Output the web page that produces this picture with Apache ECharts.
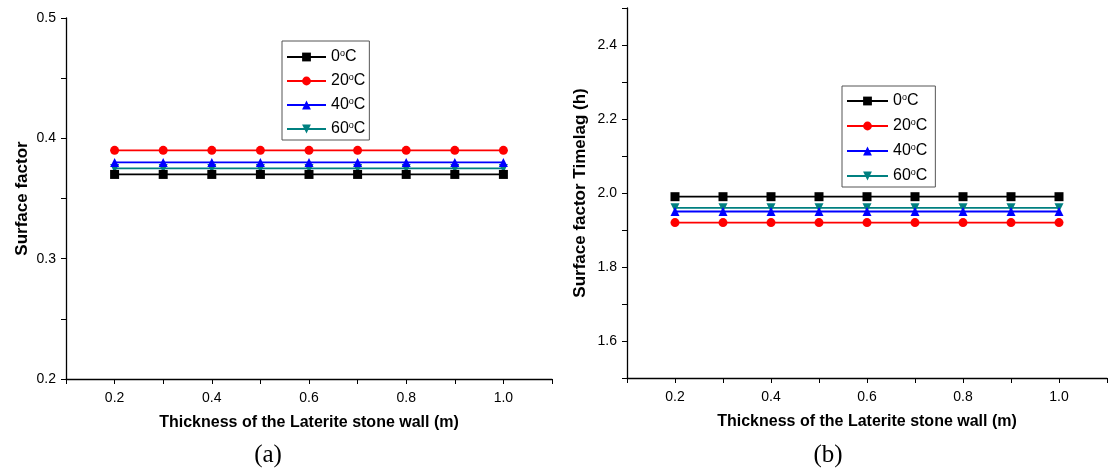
<!DOCTYPE html>
<html>
<head>
<meta charset="utf-8">
<script src="https://cdn.jsdelivr.net/npm/echarts@6/dist/echarts.min.js"></script>
<style>html,body{margin:0;padding:0;background:#fff;}#c{width:1120px;height:471px;}</style>
</head>
<body>
<div id="c"></div>
<script>
var thickness = [0.2, 0.3, 0.4, 0.5, 0.6, 0.7, 0.8, 0.9, 1.0];
var seriesNames = ['0°C', '20°C', '40°C', '60°C'];
// (a) Surface factor
var sf0 = [0.37, 0.37, 0.37, 0.37, 0.37, 0.37, 0.37, 0.37, 0.37];
var sf20 = [0.39, 0.39, 0.39, 0.39, 0.39, 0.39, 0.39, 0.39, 0.39];
var sf40 = [0.38, 0.38, 0.38, 0.38, 0.38, 0.38, 0.38, 0.38, 0.38];
var sf60 = [0.375, 0.375, 0.375, 0.375, 0.375, 0.375, 0.375, 0.375, 0.375];
// (b) Surface factor timelag (h)
var tl0 = [1.99, 1.99, 1.99, 1.99, 1.99, 1.99, 1.99, 1.99, 1.99];
var tl20 = [1.92, 1.92, 1.92, 1.92, 1.92, 1.92, 1.92, 1.92, 1.92];
var tl40 = [1.95, 1.95, 1.95, 1.95, 1.95, 1.95, 1.95, 1.95, 1.95];
var tl60 = [1.96, 1.96, 1.96, 1.96, 1.96, 1.96, 1.96, 1.96, 1.96];

var xLabelTicks = [0.2, 0.4, 0.6, 0.8, 1.0];
var yLabelTicksA = [0.2, 0.3, 0.4, 0.5];
var yLabelTicksB = [1.6, 1.8, 2.0, 2.2, 2.4];

var colors = ['#000000', '#ff0000', '#0000ff', '#008080'];
var symbols = ['rect', 'circle', 'triangle', 'triangle'];
var rotations = [0, 0, 0, 180];

function pairs(vals) { return thickness.map(function (x, i) { return [x, vals[i]]; }); }
function inList(list, v) { for (var i = 0; i < list.length; i++) { if (Math.abs(list[i] - v) < 1e-6) return true; } return false; }

var font = '"Liberation Sans", Arial, sans-serif';
var axisLine = { show: true, onZero: false, lineStyle: { color: '#000', width: 1.3 } };
var axisTick = { show: true, inside: false, length: 5, lineStyle: { color: '#000', width: 1 } };

function xAxis(gi) {
  return {
    type: 'value', gridIndex: gi, min: 0.1, max: 1.1, interval: 0.1,
    axisLine: axisLine, axisTick: axisTick, splitLine: { show: false },
    axisLabel: {
      margin: 12, color: '#000', fontFamily: font, fontSize: 14,
      showMinLabel: true, showMaxLabel: true,
      formatter: function (v) { return inList(xLabelTicks, v) ? v.toFixed(1) : ''; }
    },
    name: 'Thickness of the Laterite stone wall (m)', nameLocation: 'middle', nameGap: 36,
    nameTextStyle: { fontFamily: font, fontSize: 16, fontWeight: 'bold', color: '#000' }
  };
}

function legendFmt(name) { var t = name.split('°'); return t[0] + '{s|o}C'; }

var series = [];
[[sf0, sf20, sf40, sf60], [tl0, tl20, tl40, tl60]].forEach(function (group, gi) {
  group.forEach(function (vals, k) {
    series.push({
      name: seriesNames[k], type: 'line', xAxisIndex: gi, yAxisIndex: gi,
      data: pairs(vals), symbol: symbols[k], symbolRotate: rotations[k], symbolSize: 9,
      color: colors[k], lineStyle: { color: colors[k], width: 1.8 },
      itemStyle: { color: colors[k] }, animation: false, z: 10 - k
    });
  });
});

var legendBase = {
  orient: 'vertical', borderColor: '#555', borderWidth: 1, backgroundColor: '#fff',
  data: seriesNames, selectedMode: false, formatter: legendFmt,
  textStyle: {
    fontFamily: font, fontSize: 16, lineHeight: 16, color: '#000',
    rich: { s: { fontSize: 9, lineHeight: 4, verticalAlign: 'top', fontFamily: font, color: '#000' } }
  }
};

var option = {
  backgroundColor: '#fff',
  animation: false,
  grid: [
    { left: 66, top: 18, width: 486, height: 361 },
    { left: 627, top: 8, width: 480, height: 370 }
  ],
  xAxis: [xAxis(0), xAxis(1)],
  yAxis: [
    {
      type: 'value', gridIndex: 0, min: 0.2, max: 0.5, interval: 0.1,
      axisLine: axisLine, axisTick: axisTick, splitLine: { show: false },
      minorTick: { show: true, splitNumber: 2, length: 5, lineStyle: { color: '#000' } },
      axisLabel: { margin: 10, color: '#000', fontFamily: font, fontSize: 14,
        formatter: function (v) { return inList(yLabelTicksA, v) ? v.toFixed(1) : ''; } },
      name: 'Surface factor', nameLocation: 'middle', nameGap: 35,
      nameTextStyle: { fontFamily: font, fontSize: 17, fontWeight: 'bold', color: '#000' }
    },
    {
      type: 'value', gridIndex: 1, min: 1.5, max: 2.5, interval: 0.1,
      axisLine: axisLine, axisTick: axisTick, splitLine: { show: false },
      axisLabel: { margin: 10, color: '#000', fontFamily: font, fontSize: 14,
        formatter: function (v) { return inList(yLabelTicksB, v) ? v.toFixed(1) : ''; } },
      name: 'Surface factor Timelag (h)', nameLocation: 'middle', nameGap: 38,
      nameTextStyle: { fontFamily: font, fontSize: 17, fontWeight: 'bold', color: '#000' }
    }
  ],
  legend: [
    Object.assign({}, legendBase, { left: 282, top: 41, itemWidth: 39, itemHeight: 11, itemGap: 8, padding: [8, 4, 3, 4] }),
    Object.assign({}, legendBase, { left: 842, top: 86, itemWidth: 41, itemHeight: 11, itemGap: 9, padding: [7, 8, 3, 4] })
  ],
  graphic: [
    { type: 'text', x: 268, y: 455, style: { text: '(a)', fontFamily: '"Liberation Serif", "Times New Roman", serif', fontSize: 25, fill: '#000', align: 'center', verticalAlign: 'middle' } },
    { type: 'text', x: 828, y: 455, style: { text: '(b)', fontFamily: '"Liberation Serif", "Times New Roman", serif', fontSize: 25, fill: '#000', align: 'center', verticalAlign: 'middle' } }
  ],
  series: series
};
var chart = echarts.init(document.getElementById('c'), null, { renderer: 'canvas' });
chart.setOption(option);
</script>
</body>
</html>
